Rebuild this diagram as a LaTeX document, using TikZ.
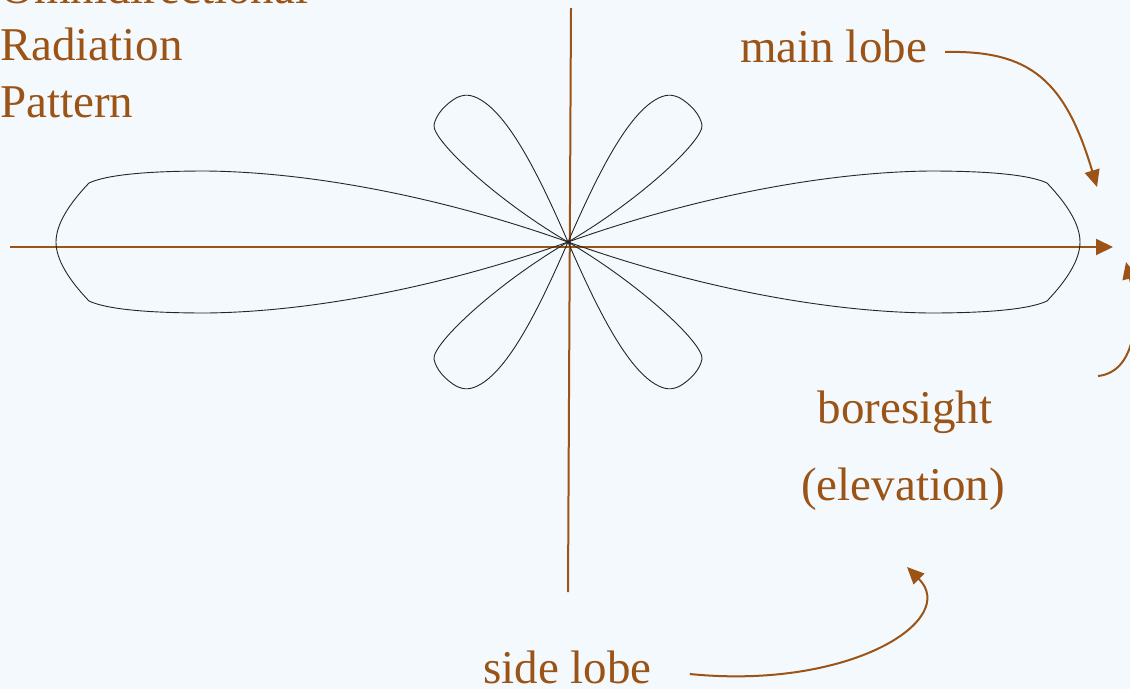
\documentclass[tikz,border=0pt]{standalone}
\usepackage{fontspec}
\setmainfont{Liberation Serif}
\usetikzlibrary{arrows.meta}
\definecolor{brn}{RGB}{155,84,22}
\definecolor{bgc}{RGB}{244,249,253}
\begin{document}
\begin{tikzpicture}[x=1pt,y=-1pt,
  lbl/.style={text=brn,font=\fontsize{47}{57}\selectfont,inner sep=0pt},
  axisline/.style={draw=brn,line width=2pt},
  callout/.style={draw=brn,line width=2pt,-{Triangle[length=17pt,width=15pt]}},
  lobe/.style={draw=black!85,line width=0.9pt,line join=round},
  mainlobepath/.style={insert path={(0,0) .. controls (132,-47) and (262,-70) .. (362,-71)
     .. controls (422,-71) and (462,-67) .. (479,-59)
     .. controls (500,-37) and (512,-17) .. (512,0)
     .. controls (512,17) and (500,37) .. (479,59)
     .. controls (462,67) and (422,71) .. (362,71)
     .. controls (262,70) and (132,47) .. (0,0) -- cycle}},
  petalpath/.style={insert path={(0,0) .. controls (27,-62) and (57,-124) .. (87,-142)
     .. controls (97,-148) and (104,-148) .. (112,-144)
     .. controls (122,-138) and (132,-128) .. (134,-117)
     .. controls (136,-102) and (72,-42) .. (0,0) -- cycle}}]
\fill[bgc] (0,0) rectangle (1130,689);
\useasboundingbox (0,0) rectangle (1130,689);
\clip (0,0) rectangle (1130,689);

% axes
\coordinate (C) at (568,242);
\coordinate (W) at (10,247);
\coordinate (E) at (1113,247);
\coordinate (N) at (571,8);
\coordinate (S) at (568,592);
\draw[axisline,-{Triangle[length=17pt,width=16pt]}] (W) -- (E);
\draw[axisline] (N) -- (S);

% radiation pattern
\begin{scope}[shift={(C)}]
  \draw[lobe, mainlobepath];
  \draw[lobe, petalpath];
\end{scope}
\begin{scope}[shift={(C)},xscale=-1]
  \draw[lobe, mainlobepath];
  \draw[lobe, petalpath];
\end{scope}
\begin{scope}[shift={(C)},yscale=-1]
  \draw[lobe, petalpath];
\end{scope}
\begin{scope}[shift={(C)},xscale=-1,yscale=-1]
  \draw[lobe, petalpath];
\end{scope}

% labels
\node[lbl,anchor=base west] (t1) at (0,3) {Omnidirectional};
\node[lbl,anchor=base west] (t2) at (0,60) {Radiation};
\node[lbl,anchor=base west] (t3) at (0,117) {Pattern};
\node[lbl,anchor=base west] (ml) at (740,62) {main lobe};
\node[lbl,anchor=base] (bs) at (905,423) {boresight};
\node[lbl,anchor=base] (el) at (903,500) {(elevation)};
\node[lbl,anchor=base west] (sl) at (483,683) {side lobe};

% callouts
\coordinate (mltip) at (1097,187);
\coordinate (bsstart) at (1098,376);
\coordinate (bstip) at (1126,262);
\coordinate (sltip) at (907,567);
\draw[callout] ([xshift=18pt,yshift=10pt]ml.base east) .. controls (1030,50) and (1065,80) .. (mltip);
\draw[callout] (bsstart) .. controls (1135,372) and (1140,320) .. (bstip);
\draw[callout] ([xshift=38pt,yshift=9pt]sl.base east) .. controls (850,690) and (960,620) .. (sltip);
\end{tikzpicture}
\end{document}
